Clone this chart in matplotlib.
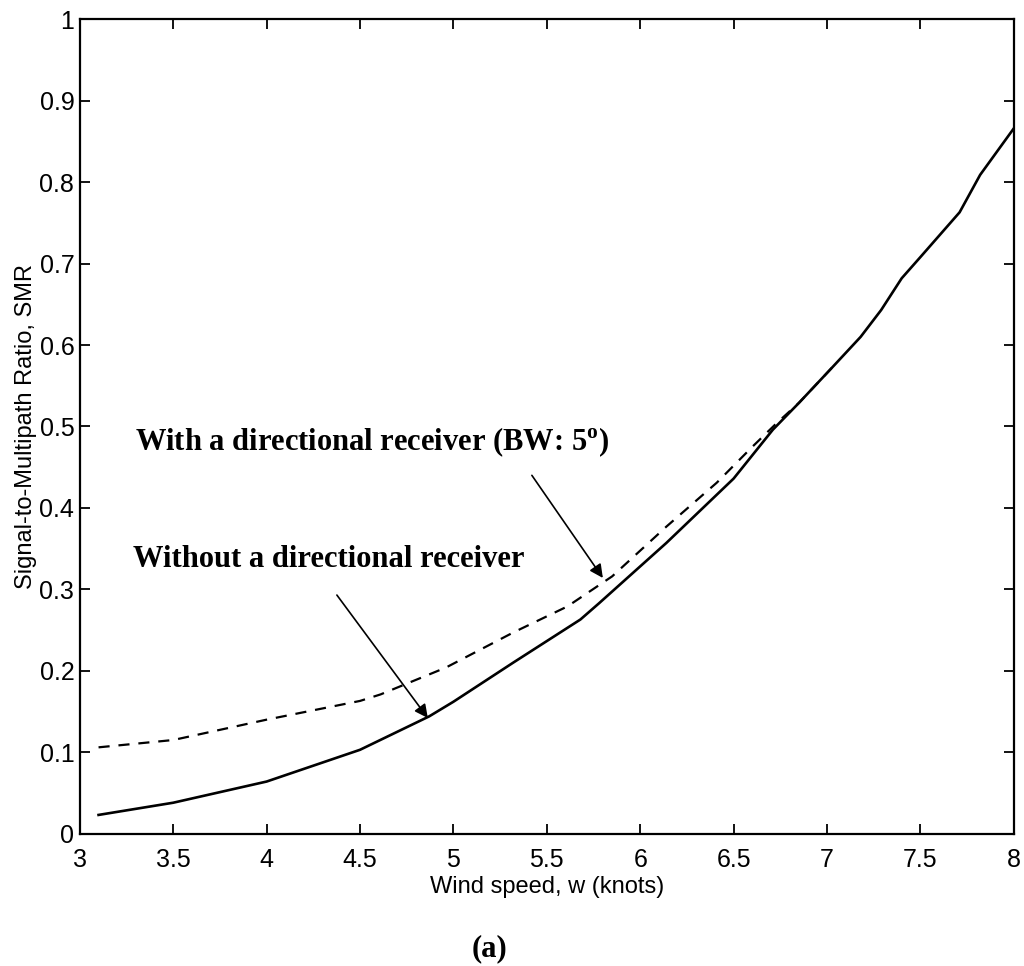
import matplotlib
matplotlib.use('Agg')
import matplotlib.pyplot as plt
import numpy as np

# wind speed (knots) and SMR values
w_solid = [3.1, 3.5, 4.0, 4.5, 4.87, 5.0, 5.32, 5.68, 5.78, 6.14, 6.5, 6.71, 6.85,
           7.03, 7.18, 7.29, 7.4, 7.5, 7.71, 7.82, 8.0]
smr_solid = [0.023, 0.038, 0.064, 0.103, 0.144, 0.162, 0.210, 0.263, 0.283, 0.357, 0.436, 0.496, 0.529,
             0.573, 0.610, 0.643, 0.682, 0.708, 0.763, 0.809, 0.866]

w_dash = [3.1, 3.5, 4.0, 4.5, 4.61, 4.96, 5.32, 5.61, 5.85, 6.14, 6.41, 6.6, 6.73, 6.85, 7.03]
smr_dash = [0.106, 0.115, 0.140, 0.163, 0.171, 0.204, 0.247, 0.279, 0.316, 0.377, 0.431, 0.475, 0.504, 0.529, 0.573]

xticks = [3, 3.5, 4, 4.5, 5, 5.5, 6, 6.5, 7, 7.5, 8]
yticks = [0, 0.1, 0.2, 0.3, 0.4, 0.5, 0.6, 0.7, 0.8, 0.9, 1]

plt.rcParams['font.family'] = ['Liberation Sans', 'DejaVu Sans']
plt.rcParams['mathtext.fontset'] = 'custom'
plt.rcParams['mathtext.rm'] = 'Liberation Serif:bold'

fig = plt.figure(figsize=(10.24, 9.66), dpi=100)
ax = fig.add_axes([0.078, 0.137, 0.912, 0.843])

ax.plot(w_solid, smr_solid, color='black', lw=1.9)
ax.plot(w_dash, smr_dash, color='black', lw=1.6, dashes=(5, 4))

ax.set_xlim(3, 8)
ax.set_ylim(0, 1)
ax.set_xticks(xticks)
ax.set_xticklabels(['3', '3.5', '4', '4.5', '5', '5.5', '6', '6.5', '7', '7.5', '8'])
ax.set_yticks(yticks)
ax.set_yticklabels(['0', '0.1', '0.2', '0.3', '0.4', '0.5', '0.6', '0.7', '0.8', '0.9', '1'])
ax.tick_params(direction='in', length=7, width=1.3, top=True, right=True,
               labelsize=18, pad=4)
ax.tick_params(axis='x', pad=10)
for s in ax.spines.values():
    s.set_linewidth(1.6)

ax.set_xlabel('Wind speed, w (knots)', fontsize=17, labelpad=3)
ax.set_ylabel('Signal-to-Multipath Ratio, SMR', fontsize=17, labelpad=2)

serif = dict(family='Liberation Serif', weight='bold', fontsize=22)
ax.text(3.294, 0.471, r'With a directional receiver (BW: 5$^{\mathrm{o}}$)', **serif)
ax.text(3.284, 0.328, 'Without a directional receiver', **serif)

arr = dict(arrowstyle='-|>', lw=1.2, color='black', mutation_scale=20, shrinkA=0, shrinkB=0)
ax.annotate('', xy=(5.80, 0.314), xytext=(5.42, 0.440), arrowprops=arr)
ax.annotate('', xy=(4.863, 0.142), xytext=(4.376, 0.293), arrowprops=arr)

fig.text(0.478, 0.003, '(a)', ha='center', va='bottom', **serif)

fig.savefig('out.png', dpi=100, facecolor='white')
